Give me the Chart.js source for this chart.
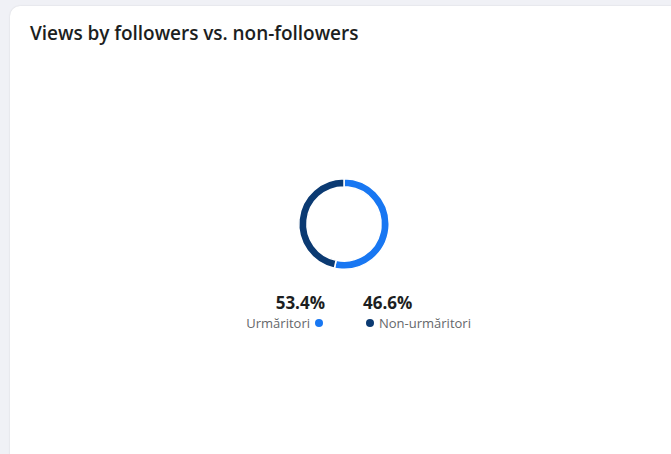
<!DOCTYPE html>
<html>
<head>
<meta charset="utf-8">
<script src="https://cdn.jsdelivr.net/npm/chart.js@4.4.1/dist/chart.umd.min.js"></script>
<style>
  html, body { margin: 0; padding: 0; }
  body {
    width: 671px; height: 454px; overflow: hidden;
    background: #f0f1f6;
    font-family: "Open Sans", "Noto Sans", sans-serif;
    position: relative;
  }
  .card {
    position: absolute; left: 10px; top: 6px; width: 700px; height: 470px;
    background: #fff; border-radius: 10px;
    box-shadow: 0 0 2px rgba(0,0,0,0.12);
  }
  .title {
    position: absolute; left: 20px; top: 14px;
    font-size: 19px; font-weight: 600; color: #1c1e21; letter-spacing: -0.05px;
  }
  .chart-box {
    position: absolute; left: 286px; top: 170px; width: 96px; height: 96px;
  }
  .legend { position: absolute; top: 286px; width: 140px; }
  .legend .val { font-size: 17px; font-weight: 700; color: #1c1e21; line-height: 22px; }
  .legend .lab { font-size: 13px; color: #65676b; line-height: 18px; display: flex; align-items: center; }
  .legend .dot { width: 8px; height: 8px; border-radius: 50%; display: inline-block; }
  .legend.left { left: 175px; text-align: right; }
  .legend.left .lab { justify-content: flex-end; padding-right: 2px; }
  .legend.left .dot { margin-left: 5px; }
  .legend.right { left: 353px; text-align: left; }
  .legend.right .lab { padding-left: 3px; }
  .legend.right .dot { margin-right: 5px; }
</style>
</head>
<body>
<div class="card">
  <div class="title">Views by followers vs. non-followers</div>
  <div class="chart-box"><canvas id="c"></canvas></div>
  <div class="legend left" id="l0"></div>
  <div class="legend right" id="l1"></div>
</div>
<script>
const labels = ['Urmăritori', 'Non-urmăritori'];
const shares = [53.4, 46.6];
const colors = ['#1877f2', '#0b3a72'];

new Chart(document.getElementById('c'), {
  type: 'doughnut',
  data: {
    labels: labels,
    datasets: [{
      data: shares,
      backgroundColor: colors,
      borderColor: '#fff',
      borderWidth: 1.5,
    }],
  },
  options: {
    responsive: true,
    maintainAspectRatio: false,
    animation: false,
    cutout: '82%',
    layout: { padding: 2 },
    plugins: { legend: { display: false }, tooltip: { enabled: false } },
  },
});

// value labels under the ring
const dot = (i) => '<span class="dot" style="background:' + colors[i] + '"></span>';
document.getElementById('l0').innerHTML =
  '<div class="val">' + shares[0].toFixed(1) + '%</div>' +
  '<div class="lab">' + labels[0] + dot(0) + '</div>';
document.getElementById('l1').innerHTML =
  '<div class="val">' + shares[1].toFixed(1) + '%</div>' +
  '<div class="lab">' + dot(1) + labels[1] + '</div>';
</script>
</body>
</html>
